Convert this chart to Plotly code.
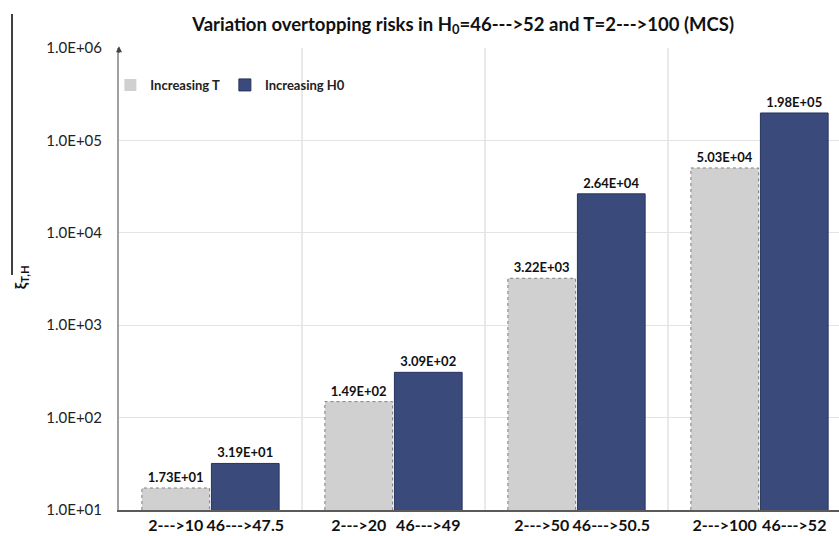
import plotly.graph_objects as go

# Return-period and initial-water-level scenarios, one group each
t_labels = ["2--->10", "2--->20", "2--->50", "2--->100"]
h_labels = ["46--->47.5", "46--->49", "46--->50.5", "46--->52"]
risk_t = [17.3, 149, 3220, 50300]        # increasing T
risk_h = [31.9, 309, 26400, 198000]      # increasing H0
t_text = ["1.73E+01", "1.49E+02", "3.22E+03", "5.03E+04"]
h_text = ["3.19E+01", "3.09E+02", "2.64E+04", "1.98E+05"]
y_ticks = [1e1, 1e2, 1e3, 1e4, 1e5, 1e6]
y_tick_text = ["1.0E+01", "1.0E+02", "1.0E+03", "1.0E+04", "1.0E+05", "1.0E+06"]

FONT = "Lato"
GRAY = "#d0d0d0"
BLUE = "#3a4a7b"
OFF = 0.19
W = 0.37

groups = list(range(len(t_labels)))
x_t = [g - OFF for g in groups]
x_h = [g + OFF for g in groups]

fig = go.Figure()
fig.add_trace(go.Bar(
    x=x_t, y=risk_t, width=W, name="<b>Increasing T</b>",
    marker=dict(color=GRAY, line=dict(color="#9a9a9a", width=0)),
    text=[f"<b>{s}</b>" for s in t_text], textposition="outside", cliponaxis=False,
    textfont=dict(family=FONT, size=13, color="#111"),
))
fig.add_trace(go.Bar(
    x=x_h, y=risk_h, width=W, name="<b>Increasing H0</b>",
    marker=dict(color=BLUE, line=dict(color="#26345e", width=1)),
    text=[f"<b>{s}</b>" for s in h_text], textposition="outside", cliponaxis=False,
    textfont=dict(family=FONT, size=13, color="#111"),
))

# dotted outline around the light bars
ox, oy = [], []
for xc, v in zip(x_t, risk_t):
    x0, x1 = xc - W / 2, xc + W / 2
    ox += [x0, x0, x1, x1, None]
    oy += [10, v, v, 10, None]
fig.add_trace(go.Scatter(
    x=ox, y=oy, mode="lines", showlegend=False, hoverinfo="skip",
    line=dict(color="#808080", width=1, dash="dot"),
))

# vertical separators between the groups
shapes = []
for g in groups[:-1]:
    shapes.append(dict(type="line", xref="x", yref="paper", x0=g + 0.5, x1=g + 0.5,
                       y0=0, y1=1, line=dict(color="#d4d4d4", width=1), layer="below"))
# thin rule at the far left
shapes.append(dict(type="line", xref="paper", yref="paper", x0=-0.1486, x1=-0.1486,
                   y0=1.0736, y1=0.5087, line=dict(color="#000", width=1.5)))

fig.update_layout(
    width=839, height=536,
    margin=dict(l=119, r=0, t=48, b=26, autoexpand=False),
    paper_bgcolor="white", plot_bgcolor="white",
    barmode="overlay",
    showlegend=True,
    legend=dict(orientation="h", x=-0.012, y=0.92, xanchor="left", yanchor="middle",
                font=dict(family=FONT, size=13, color="#222"), bgcolor="rgba(0,0,0,0)",
                itemwidth=30, traceorder="normal"),
    title=dict(text="<b>Variation overtopping risks in H<sub>0</sub>=46--->52 and T=2--->100 (MCS)</b>",
               x=0.478, xref="paper", xanchor="center", y=0.955, yanchor="middle",
               font=dict(family=FONT, size=18.5, color="#111")),
    shapes=shapes,
    xaxis=dict(
        range=[-0.5, -0.5 + 720 / 183], showgrid=False, zeroline=False,
        tickvals=x_t + x_h, ticktext=[f"<b>{s}</b>" for s in t_labels + h_labels],
        tickfont=dict(family=FONT, size=16, color="#111"),
        showline=True, linecolor="#5a5a5a", linewidth=2, ticks="", ticklen=0,
        ticklabelstandoff=0, automargin=False,
    ),
    yaxis=dict(
        type="log", range=[1, 6], tickvals=y_ticks, ticktext=y_tick_text,
        tickfont=dict(family=FONT, size=15, color="#222"),
        showgrid=True, gridcolor="#e3e3e3", gridwidth=1, zeroline=False,
        showline=True, linecolor="#a0a0a0", linewidth=2, ticks="", ticklabelstandoff=12,
        automargin=False,
    ),
    annotations=[
        dict(xref="paper", yref="paper", x=0, y=1.004, ax=0, ay=8, text="",
             showarrow=True, arrowhead=2, arrowsize=0.8, arrowwidth=1.5, arrowcolor="#444"),
        dict(xref="paper", yref="paper", x=-0.1375, y=0.504, text="<b>ξ<sub>T,H</sub></b>",
             textangle=-90, showarrow=False, xanchor="center", yanchor="middle",
             font=dict(family=FONT, size=16, color="#111")),
    ],
)

fig.write_html("out.html")
